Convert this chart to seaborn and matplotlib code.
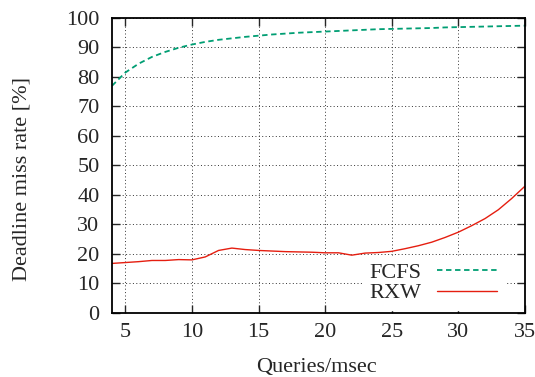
import pandas as pd
import matplotlib.pyplot as plt
import seaborn as sns

# values
queries = [4, 5, 6, 7, 8, 9, 10, 11, 12, 13, 14, 15, 16, 17, 18, 19,
           20, 21, 22, 23, 24, 25, 26, 27, 28, 29, 30, 31, 32, 33, 34, 35]
fcfs = [77.0, 81.5, 84.5, 86.8, 88.5, 89.9, 91.0, 91.9, 92.6, 93.1, 93.6, 94.0,
        94.4, 94.7, 95.0, 95.2, 95.4, 95.6, 95.8, 96.0, 96.2, 96.3, 96.4, 96.5,
        96.6, 96.8, 96.9, 97.0, 97.1, 97.2, 97.3, 97.4]
rxw = [16.8, 17.1, 17.4, 17.8, 17.8, 18.1, 18.0, 19.0, 21.2, 22.0, 21.5, 21.2,
       21.0, 20.8, 20.7, 20.6, 20.4, 20.4, 19.6, 20.3, 20.5, 20.9, 21.8, 22.8,
       24.0, 25.6, 27.4, 29.6, 32.0, 35.0, 38.8, 43.0]
x_ticks = [5, 10, 15, 20, 25, 30, 35]
y_ticks = [0, 10, 20, 30, 40, 50, 60, 70, 80, 90, 100]

sns.set_style("ticks")
plt.rcParams["font.family"] = ["Liberation Serif", "DejaVu Serif"]
fs = 16

df = pd.DataFrame({"queries": queries * 2,
                   "rate": fcfs + rxw,
                   "policy": ["FCFS"] * len(fcfs) + ["RXW"] * len(rxw)})

fig = plt.figure(figsize=(5.35, 3.77), dpi=100)
ax = fig.add_axes([0.2093, 0.1698, 0.772, 0.7825])

sns.lineplot(data=df, x="queries", y="rate", hue="policy", style="policy",
             palette={"FCFS": "#009e73", "RXW": "#e51e10"},
             dashes={"FCFS": (3, 2), "RXW": ""}, ax=ax, legend=False)
ax.lines[0].set_linewidth(1.3)
ax.lines[1].set_linewidth(1.0)
for ln in ax.lines:
    ln.set_zorder(3)

ax.set_xlim(4, 35)
ax.set_ylim(0, 100)
ax.set_xticks(x_ticks)
ax.set_yticks(y_ticks)
ax.grid(True, linestyle=(0, (1, 2.5)), color="#333333", linewidth=0.7)
ax.tick_params(direction="in", length=6, width=1, top=True, right=True,
               labelsize=fs)
ax.tick_params(axis="x", pad=7.5)
ax.tick_params(axis="y", pad=9)
for s in ax.spines.values():
    s.set_linewidth(1.3)
    s.set_color("black")
    s.set_zorder(5)

ax.set_xlabel("Queries/msec", fontsize=fs, va="center")
ax.set_ylabel("Deadline miss rate [%]", fontsize=fs, va="center")
ax.xaxis.set_label_coords(0.496, -0.186)
ax.yaxis.set_label_coords(-0.218, 0.454)

handles = [plt.Line2D([], [], color="#009e73", lw=1.3, dashes=(3, 2)),
           plt.Line2D([], [], color="#e51e10", lw=1.0)]
leg = ax.legend(handles, ["FCFS", "RXW"], loc="center",
                bbox_to_anchor=(0.778, 0.102), markerfirst=False,
                handlelength=2.7, handletextpad=0.72, labelspacing=0.0,
                borderpad=0.3, fontsize=fs, frameon=True, fancybox=False,
                framealpha=1, edgecolor="white", facecolor="white")
leg.set_zorder(2)

fig.savefig("out.png", dpi=100)
